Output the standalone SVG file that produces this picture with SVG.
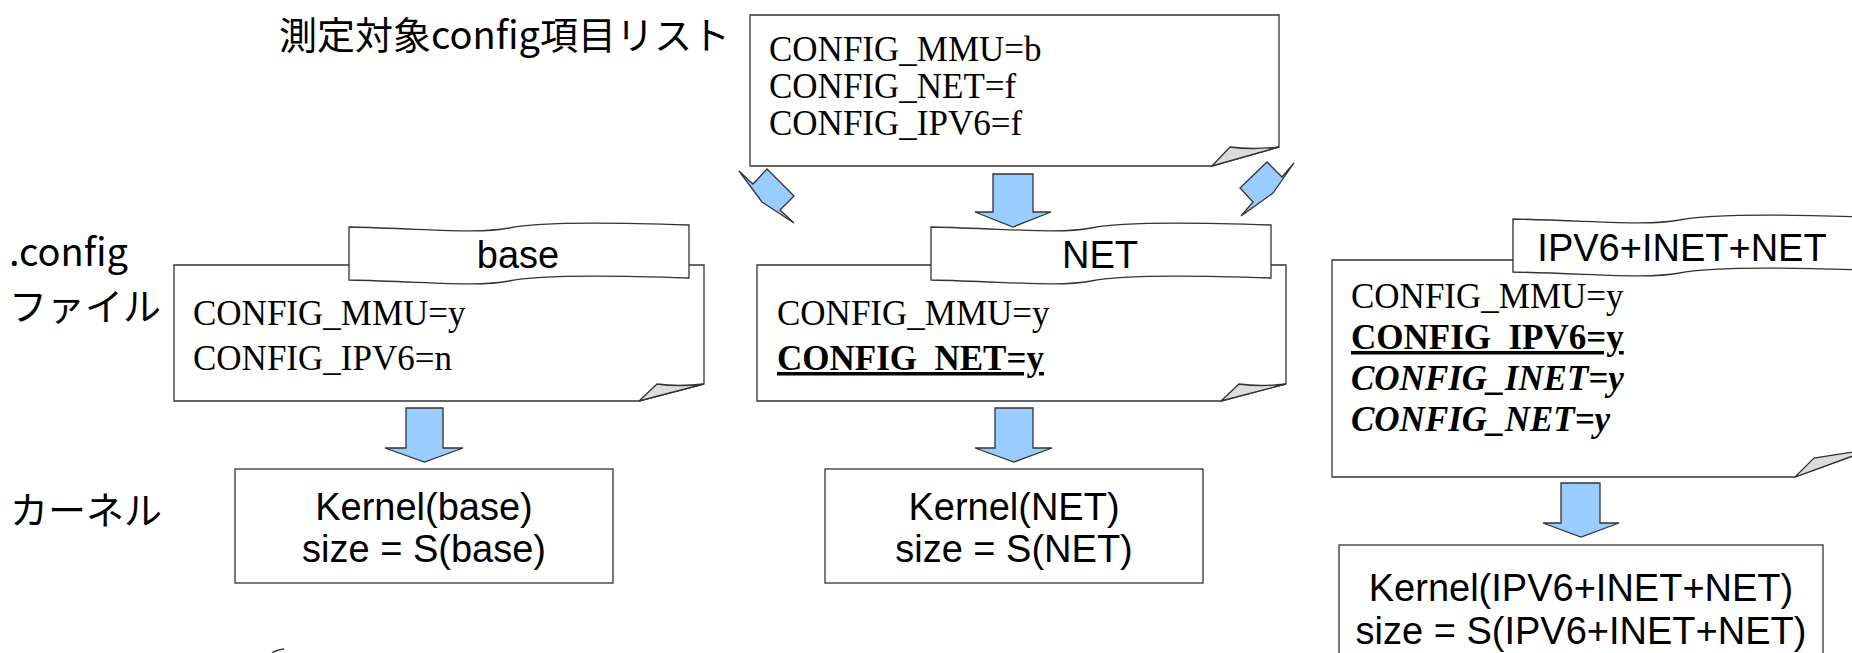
<svg xmlns="http://www.w3.org/2000/svg" width="1852" height="653" viewBox="0 0 1852 653">
<style>
.box{fill:#fff;stroke:#333;stroke-width:1.3}
.fold{fill:#dcdcdc;stroke:#333;stroke-width:1.3}
.arrow{fill:#99ccff;stroke:#333;stroke-width:1.3;stroke-linejoin:miter}
.serif{font-family:"Liberation Serif",serif;font-size:35px;fill:#000}
.sans{font-family:"Liberation Sans",sans-serif;font-size:38px;fill:#000}
.jp{font-family:"Noto Sans CJK JP","Liberation Sans",sans-serif;font-size:38px;fill:#000}
</style>
<defs>
<path id="wave" d="M0,0 C85,2 129,7 160,1 C187,-5 255,-5 340,-2 L340,51 C255,48 187,48 160,54 C129,60 85,55 0,53 Z"/>
</defs>
<rect width="1852" height="653" fill="#fff"/>

<g id="labels">
<text class="jp" x="279" y="49" font-size="39">測定対象config項目リスト</text>
<text class="jp" x="9" y="266">.config</text>
<text class="jp" x="9" y="320">ファイル</text>
<text class="jp" x="10" y="524">カーネル</text>
</g>

<g id="list">
<path class="box" d="M750,15 H1279 V147 L1212,166 H750 Z"/>
<path class="fold" d="M1212,166 L1230,147 Q1252,150 1279,147 Z"/>
<text class="serif" x="769" y="61">CONFIG_MMU=b</text>
<text class="serif" x="769" y="98">CONFIG_NET=f</text>
<text class="serif" x="769" y="135">CONFIG_IPV6=f</text>
</g>

<g id="cfg-base">
<path class="box" d="M174,265 H704 V384 L639,401 H174 Z"/>
<path class="fold" d="M639,401 L657,384 Q678,387 704,384 Z"/>
<use href="#wave" x="349" y="227" class="box"/>
<text class="sans" x="518" y="268" text-anchor="middle">base</text>
<text class="serif" x="193" y="325">CONFIG_MMU=y</text>
<text class="serif" x="193" y="370">CONFIG_IPV6=n</text>
</g>

<g id="cfg-net">
<path class="box" d="M757,265 H1286 V384 L1221,401 H757 Z"/>
<path class="fold" d="M1221,401 L1239,384 Q1260,387 1286,384 Z"/>
<use href="#wave" x="931" y="227" class="box"/>
<text class="sans" x="1100" y="268" text-anchor="middle">NET</text>
<text class="serif" x="777" y="325">CONFIG_MMU=y</text>
<text class="serif" x="777" y="370" font-weight="bold" text-decoration="underline">CONFIG_NET=y</text>
</g>

<g id="cfg-ipv6">
<path class="box" d="M1332,260 H1872 V449 L1795,477 H1332 Z"/>
<path class="fold" d="M1795,477 L1814,458 Q1840,454 1872,449 Z"/>
<use href="#wave" x="1513" y="219" class="box" transform="translate(1513,0) scale(1.04,1) translate(-1513,0)"/>
<text class="sans" x="1682" y="261" text-anchor="middle">IPV6+INET+NET</text>
<text class="serif" x="1351" y="308">CONFIG_MMU=y</text>
<text class="serif" x="1351" y="349" font-weight="bold" text-decoration="underline">CONFIG_IPV6=y</text>
<text class="serif" x="1351" y="390" font-weight="bold" font-style="italic">CONFIG_INET=y</text>
<text class="serif" x="1351" y="431" font-weight="bold" font-style="italic">CONFIG_NET=y</text>
</g>

<g id="kernel-base">
<rect class="box" x="235" y="469" width="378" height="114"/>
<text class="sans" x="424" y="520" text-anchor="middle">Kernel(base)</text>
<text class="sans" x="424" y="562" text-anchor="middle">size = S(base)</text>
</g>

<g id="kernel-net">
<rect class="box" x="825" y="469" width="378" height="114"/>
<text class="sans" x="1014" y="520" text-anchor="middle">Kernel(NET)</text>
<text class="sans" x="1014" y="562" text-anchor="middle">size = S(NET)</text>
</g>

<g id="kernel-ipv6">
<rect class="box" x="1339" y="545" width="484" height="130"/>
<text class="sans" x="1581" y="601" text-anchor="middle" font-size="42">Kernel(IPV6+INET+NET)</text>
<text class="sans" x="1581" y="644" text-anchor="middle" font-size="42">size = S(IPV6+INET+NET)</text>
</g>

<g id="connectors">
<path class="arrow" d="M739,171 L753,184 L767,169 L794,196 L780,210 L794,223 L762,202 Z"/>
<path class="arrow" d="M993,174 H1033 V212 H1051 L1013,227 L975,212 H993 Z"/>
<path class="arrow" d="M1294,163 L1282,177 L1267,162 L1240,188 L1253,202 L1241,216 L1273,193 Z"/>
<path class="arrow" d="M406,408 H443 V448 H463 L424.5,462 L385,448 H406 Z"/>
<path class="arrow" d="M995,408 H1033 V448 H1052 L1014,462 L975,448 H995 Z"/>
<path class="arrow" d="M1561,483 H1600 V523 H1619 L1581,537 L1543,523 H1561 Z"/>
</g>

<path id="fragment" d="M272,653 Q276,650 284,649" fill="none" stroke="#333" stroke-width="1.3"/>
</svg>
